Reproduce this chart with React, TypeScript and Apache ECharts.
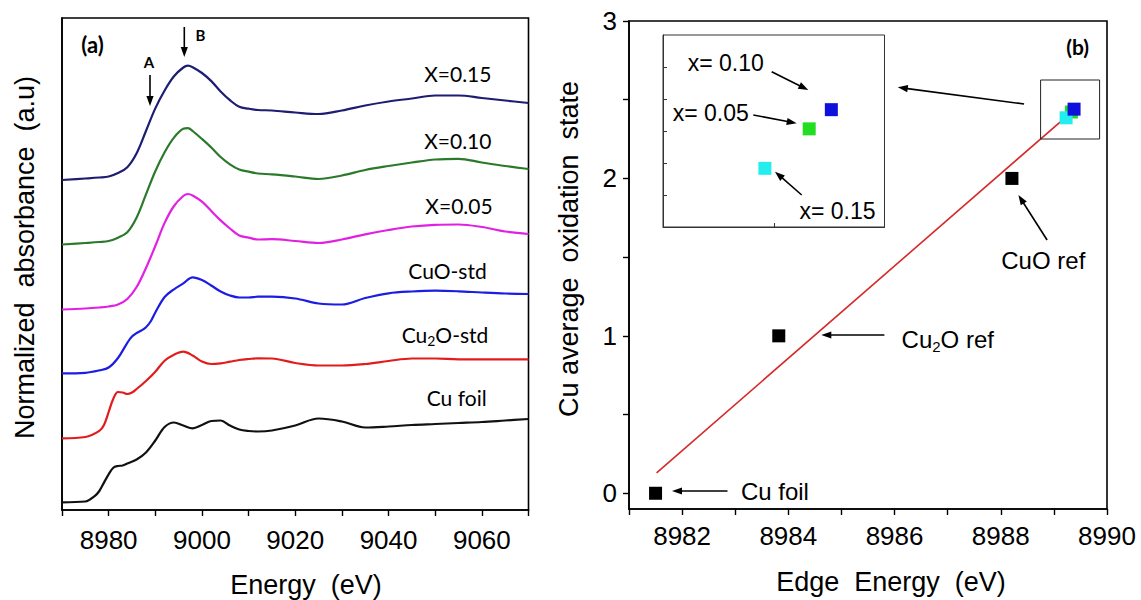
import React, { useEffect, useRef } from "react";
import * as echarts from "echarts";

// ---------- Panel (a): XANES spectra (energy in eV, stacked normalized absorbance) ----------
const specX015: number[][] = [[8970,3.30],[8975,3.315],[8978,3.325],[8980,3.335],[8982,3.37],[8984,3.428],[8986,3.568],[8988,3.79],[8990,4.016],[8992,4.195],[8994,4.337],[8996,4.425],[8997,4.443],[8998,4.428],[9000,4.37],[9002,4.289],[9004,4.185],[9006,4.098],[9008,4.032],[9010,4.013],[9012,4.0],[9015,3.995],[9020,3.975],[9025,3.96],[9030,3.995],[9035,4.045],[9040,4.085],[9045,4.115],[9050,4.145],[9055,4.145],[9060,4.12],[9065,4.095],[9070,4.07]];
const specX010: number[][] = [[8970,2.655],[8975,2.67],[8978,2.68],[8980,2.69],[8982,2.723],[8984,2.778],[8986,2.926],[8988,3.157],[8990,3.388],[8992,3.578],[8994,3.724],[8996,3.812],[8997,3.818],[8998,3.79],[9000,3.71],[9002,3.625],[9004,3.53],[9006,3.457],[9008,3.405],[9010,3.383],[9012,3.365],[9015,3.357],[9020,3.335],[9025,3.31],[9030,3.345],[9035,3.40],[9040,3.44],[9045,3.475],[9050,3.505],[9055,3.512],[9060,3.475],[9065,3.44],[9070,3.41]];
const specX005: number[][] = [[8970,2.005],[8975,2.015],[8978,2.025],[8980,2.035],[8982,2.055],[8984,2.11],[8986,2.23],[8988,2.42],[8990,2.64],[8992,2.871],[8994,3.04],[8996,3.14],[8997,3.16],[8998,3.145],[9000,3.083],[9002,2.99],[9004,2.896],[9006,2.815],[9008,2.746],[9010,2.724],[9012,2.705],[9015,2.708],[9020,2.69],[9025,2.67],[9030,2.705],[9035,2.757],[9040,2.80],[9045,2.835],[9050,2.852],[9055,2.855],[9060,2.83],[9065,2.785],[9070,2.76]];
const specCuO: number[][] = [[8970,1.367],[8975,1.372],[8978,1.396],[8980,1.425],[8982,1.52],[8984,1.672],[8985,1.735],[8986,1.77],[8987,1.795],[8988,1.828],[8989,1.885],[8990,1.975],[8992,2.13],[8994,2.207],[8996,2.266],[8998,2.327],[9000,2.30],[9002,2.245],[9004,2.185],[9006,2.145],[9008,2.125],[9010,2.125],[9012,2.133],[9015,2.133],[9020,2.115],[9025,2.065],[9030,2.055],[9035,2.12],[9040,2.167],[9045,2.185],[9050,2.193],[9055,2.187],[9060,2.175],[9065,2.165],[9070,2.16]];
const specCu2O: number[][] = [[8970,0.717],[8975,0.73],[8978,0.792],[8979,0.851],[8980,0.98],[8981,1.113],[8982,1.18],[8983,1.175],[8984,1.16],[8985,1.175],[8986,1.21],[8988,1.29],[8990,1.383],[8992,1.493],[8994,1.553],[8996,1.583],[8998,1.545],[9000,1.485],[9002,1.46],[9004,1.467],[9006,1.483],[9008,1.50],[9010,1.51],[9012,1.517],[9015,1.515],[9020,1.47],[9025,1.445],[9030,1.445],[9035,1.46],[9040,1.49],[9045,1.515],[9050,1.515],[9055,1.507],[9060,1.507],[9065,1.507],[9070,1.507]];
const specCuFoil: number[][] = [[8970,0.077],[8975,0.085],[8977,0.139],[8978,0.19],[8979,0.274],[8980,0.357],[8981,0.423],[8982,0.44],[8983,0.445],[8984,0.465],[8986,0.505],[8988,0.575],[8990,0.695],[8992,0.83],[8994,0.875],[8996,0.845],[8998,0.817],[9000,0.85],[9002,0.89],[9004,0.895],[9006,0.845],[9008,0.805],[9010,0.79],[9012,0.785],[9015,0.795],[9020,0.845],[9025,0.915],[9030,0.885],[9035,0.825],[9040,0.835],[9045,0.85],[9050,0.86],[9055,0.87],[9060,0.88],[9065,0.895],[9070,0.91]];

// ---------- Panel (b): edge energy vs Cu average oxidation state ----------
const refPoints: number[][] = [[8981.5, 0], [8983.82, 1], [8988.21, 2]];
const fitLine: number[][] = [[8981.52, 0.13], [8989.43, 2.45]];
const sampleX005: number[][] = [[8989.33, 2.422]];
const sampleX010: number[][] = [[8989.38, 2.44]];
const sampleX015: number[][] = [[8989.23, 2.385]];

const yTicksB = [0, 0.5, 1, 1.5, 2, 2.5, 3];
const yLabelsB = [0, 1, 2, 3];
const xTicksB = [8981, 8982, 8983, 8984, 8985, 8986, 8987, 8988, 8989, 8990];
const xLabelsB = [8982, 8984, 8986, 8988, 8990];
const insetYTicks = [2.36, 2.39, 2.42, 2.45, 2.48];
const insetXTicks = [8989.25];

const FONT = "'Liberation Sans', Arial, sans-serif";
const LFONT = "Lato, 'Open Sans', sans-serif";

function arrow(x1: number, y1: number, x2: number, y2: number, head = 10, w = 3.6) {
  const dx = x2 - x1, dy = y2 - y1;
  const L = Math.hypot(dx, dy);
  const ux = dx / L, uy = dy / L;
  const bx = x2 - ux * head, by = y2 - uy * head;
  return [
    { type: "line", z: 100, shape: { x1, y1, x2: bx + ux * 2, y2: by + uy * 2 }, style: { stroke: "#000", lineWidth: 1.6 } },
    { type: "polygon", z: 100, shape: { points: [[x2, y2], [bx - uy * w, by + ux * w], [bx + uy * w, by - ux * w]] }, style: { fill: "#000" } },
  ];
}

function txt(text: string, x: number, y: number, size: number, opts: any = {}) {
  return {
    type: "text", z: 100, x, y, rotation: opts.rotation || 0,
    style: {
      text, fill: "#000", font: `${opts.bold ? "bold " : ""}${size}px ${opts.family || FONT}`,
      textAlign: opts.align || "center", textVerticalAlign: "middle",
      rich: opts.rich,
    },
  };
}

export default function App() {
  const ref = useRef<HTMLDivElement>(null);
  useEffect(() => {
    if (!ref.current) return;
    const chart = echarts.init(ref.current, null, { renderer: "svg" });
    const lineS = (name: string, data: number[][], color: string) => ({
      name, type: "line", xAxisIndex: 0, yAxisIndex: 0, data, smooth: 0.35,
      symbol: "none", lineStyle: { color, width: 2.2 }, itemStyle: { color },
    });
    const sq = (name: string, data: number[][], color: string, idx: number) => ({
      name, type: "scatter", xAxisIndex: idx, yAxisIndex: idx, data, symbol: "rect",
      symbolSize: 13, itemStyle: { color, opacity: 1 }, z: 8,
    });
    const axisLbl = { color: "#000", fontSize: 26, fontFamily: FONT };
    const option: any = {
      animation: false,
      backgroundColor: "#fff",
      grid: [
        { left: 62, top: 18, width: 466.5, height: 492, show: true, borderColor: "#000", borderWidth: 1.6 },
        { left: 629, top: 21, width: 478, height: 488, show: true, borderColor: "#000", borderWidth: 1.6 },
        { left: 663, top: 35, width: 221.5, height: 192, show: true, borderColor: "#333", borderWidth: 1 },
      ],
      xAxis: [
        {
          type: "value", gridIndex: 0, min: 8970, max: 9070, interval: 10,
          axisLine: { onZero: false, lineStyle: { color: "#000", width: 1.6 } },
          axisTick: { show: true, inside: false, length: 6, lineStyle: { color: "#000", width: 1.4 } },
          axisLabel: { ...axisLbl, margin: 17, formatter: (v: number) => (v % 20 === 0 ? String(v) : "") },
          splitLine: { show: false },
        },
        {
          type: "value", gridIndex: 1, min: 8981, max: 8990, interval: 1,
          axisLine: { onZero: false, lineStyle: { color: "#000", width: 1.6 } },
          axisTick: { show: true, inside: false, length: 6, customValues: xTicksB, lineStyle: { color: "#000", width: 1.4 } },
          axisLabel: { ...axisLbl, margin: 14, customValues: xLabelsB, formatter: (v: number) => String(v) },
          splitLine: { show: false },
        },
        {
          type: "value", gridIndex: 2, min: 8989.0, max: 8989.5,
          axisLine: { onZero: false, lineStyle: { color: "#333", width: 1 } },
          axisTick: { show: true, inside: true, length: 4, customValues: insetXTicks, lineStyle: { color: "#333", width: 1 } },
          axisLabel: { show: false },
          splitLine: { show: false },
        },
      ],
      yAxis: [
        {
          type: "value", gridIndex: 0, min: 0, max: 4.92,
          axisLine: { show: true, onZero: false, lineStyle: { color: "#000", width: 1.6 } },
          axisTick: { show: false }, axisLabel: { show: false }, splitLine: { show: false },
        },
        {
          type: "value", gridIndex: 1, min: -0.1, max: 3,
          axisLine: { show: true, onZero: false, lineStyle: { color: "#000", width: 1.6 } },
          axisTick: { show: true, inside: false, length: 6, customValues: yTicksB, lineStyle: { color: "#000", width: 1.4 } },
          axisLabel: { ...axisLbl, margin: 12, customValues: yLabelsB, formatter: (v: number) => String(v) },
          splitLine: { show: false },
        },
        {
          type: "value", gridIndex: 2, min: 2.33, max: 2.51,
          axisLine: { show: true, onZero: false, lineStyle: { color: "#333", width: 1 } },
          axisTick: { show: true, inside: true, length: 4, customValues: insetYTicks, lineStyle: { color: "#333", width: 1 } },
          axisLabel: { show: false }, splitLine: { show: false },
        },
      ],
      series: [
        lineS("X=0.15", specX015, "#1d1d72"),
        lineS("X=0.10", specX010, "#2b7a2b"),
        lineS("X=0.05", specX005, "#e220e2"),
        lineS("CuO-std", specCuO, "#1c1ce2"),
        lineS("Cu2O-std", specCu2O, "#e21c1c"),
        lineS("Cu foil", specCuFoil, "#111111"),
        {
          name: "fit", type: "line", xAxisIndex: 1, yAxisIndex: 1, data: fitLine, symbol: "none",
          lineStyle: { color: "#d42a2a", width: 1.6 }, z: 3,
        },
        sq("refs", refPoints, "#000", 1),
        sq("x=0.05", sampleX005, "#22dd22", 1),
        sq("x=0.15", sampleX015, "#22eeee", 1),
        sq("x=0.10", sampleX010, "#1010dd", 1),
        sq("x=0.05 inset", sampleX005, "#22dd22", 2),
        sq("x=0.15 inset", sampleX015, "#22eeee", 2),
        sq("x=0.10 inset", sampleX010, "#1010dd", 2),
      ],
      graphic: [
        // panel (a) annotations
        txt("(a)", 92.5, 44, 22, { bold: true, family: LFONT }),
        txt("A", 149, 61.5, 15, { bold: true, family: LFONT }),
        ...arrow(150, 75, 150, 106),
        txt("B", 200.5, 35, 15, { bold: true, family: LFONT }),
        ...arrow(184.3, 27, 184.3, 57),
        txt("X=0.15", 457.8, 73.3, 21, { family: LFONT }),
        txt("X=0.10", 457.8, 140, 21, { family: LFONT }),
        txt("X=0.05", 459, 205, 21, { family: LFONT }),
        txt("CuO-std", 447.5, 270.5, 21, { family: LFONT }),
        txt("{a|Cu}{s|2}{a|O-std}", 445, 334, 21, {
          family: LFONT,
          rich: {
            a: { fontSize: 21, fontFamily: LFONT, fill: "#000", verticalAlign: "middle" },
            s: { fontSize: 14, fontFamily: LFONT, fill: "#000", padding: [12, 0, 0, 0] },
          },
        }),
        txt("Cu foil", 456.7, 397.5, 21, { family: LFONT }),
        txt("Normalized  absorbance  (a.u)", 25, 257.5, 27, { rotation: Math.PI / 2 }),
        txt("Energy  (eV)", 306, 585, 27),
        // panel (b) annotations
        txt("(b)", 1077.7, 46.7, 21, { bold: true, family: LFONT }),
        txt("Cu average  oxidation  state", 568.7, 249, 27, { rotation: Math.PI / 2 }),
        txt("Edge  Energy  (eV)", 891, 581.7, 27),
        txt("x= 0.10", 725.8, 62.5, 23),
        ...arrow(771.7, 71.7, 808.3, 90),
        txt("x= 0.05", 710.8, 113, 23),
        ...arrow(753.3, 115, 796.7, 123.3),
        txt("x= 0.15", 837.5, 211, 23),
        ...arrow(801.7, 195, 775, 171.7),
        {
          type: "rect", z: 90, shape: { x: 1040.6, y: 80, width: 59, height: 59 },
          style: { fill: "none", stroke: "#222", lineWidth: 1 },
        },
        ...arrow(1024.1, 104, 897.8, 87.3),
        txt("CuO ref", 1043.3, 260.7, 24),
        ...arrow(1047.1, 240, 1018.4, 195),
        txt("{a|Cu}{s|2}{a|O ref}", 901.6, 339.3, 24, {
          align: "left",
          rich: {
            a: { fontSize: 24, fontFamily: FONT, fill: "#000" },
            s: { fontSize: 15, fontFamily: FONT, fill: "#000", padding: [14, 0, 0, 0] },
          },
        }),
        ...arrow(884.4, 335, 821.3, 335),
        txt("Cu foil", 740.9, 491.7, 24, { align: "left" }),
        ...arrow(727.5, 491, 672, 491),
      ],
    };
    chart.setOption(option);
    return () => chart.dispose();
  }, []);
  return (
    <div
      ref={ref}
      style={{ position: "absolute", left: 0, top: 0, width: 1141, height: 600, background: "#fff" }}
    />
  );
}
